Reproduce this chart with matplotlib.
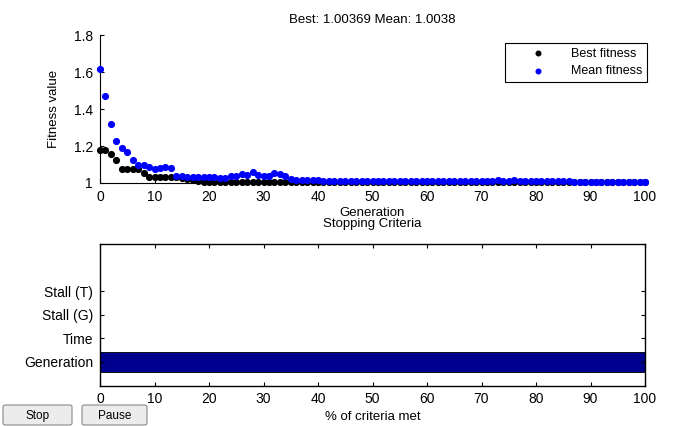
import matplotlib.pyplot as plt
from matplotlib.patches import FancyBboxPatch

plt.rcParams['font.family'] = ['Liberation Sans', 'DejaVu Sans']

generations = list(range(0, 101))

mean_fitness = [
    1.62, 1.47, 1.32, 1.23, 1.19, 1.167, 1.125, 1.096, 1.096, 1.087,
    1.075, 1.08, 1.087, 1.08, 1.04, 1.037, 1.035, 1.034, 1.034, 1.034,
    1.03, 1.03, 1.029, 1.029, 1.04, 1.038, 1.05, 1.044, 1.06, 1.044,
    1.04, 1.04, 1.056, 1.051, 1.04, 1.022, 1.018, 1.017, 1.016, 1.015,
    1.015, 1.013, 1.013, 1.012, 1.012, 1.012, 1.011, 1.011, 1.011, 1.010,
    1.010, 1.010, 1.010, 1.009, 1.010, 1.009, 1.009, 1.009, 1.010, 1.009,
    1.009, 1.009, 1.009, 1.009, 1.010, 1.009, 1.009, 1.011, 1.013, 1.013,
    1.012, 1.010, 1.011, 1.014, 1.013, 1.011, 1.014, 1.011, 1.010, 1.009,
    1.009, 1.009, 1.009, 1.009, 1.010, 1.009, 1.009, 1.008, 1.007, 1.006,
    1.006, 1.006, 1.005, 1.005, 1.005, 1.005, 1.004, 1.004, 1.004, 1.004,
    1.0038,
]

best_fitness = [
    1.18, 1.18, 1.156, 1.125, 1.075, 1.075, 1.075, 1.075, 1.054, 1.034,
    1.034, 1.034, 1.034, 1.034, 1.034, 1.028, 1.022, 1.016, 1.012, 1.008,
    1.006, 1.006, 1.006, 1.006, 1.006, 1.006, 1.007, 1.007, 1.007, 1.006,
    1.006, 1.006, 1.006, 1.006, 1.006, 1.005, 1.005, 1.005, 1.005, 1.005,
    1.005, 1.005, 1.005, 1.005, 1.005, 1.005, 1.005, 1.005, 1.005, 1.005,
    1.005, 1.005, 1.005, 1.005, 1.005, 1.005, 1.005, 1.005, 1.005, 1.005,
    1.004, 1.004, 1.004, 1.004, 1.004, 1.004, 1.004, 1.004, 1.004, 1.004,
    1.004, 1.004, 1.004, 1.004, 1.004, 1.004, 1.004, 1.004, 1.004, 1.004,
    1.004, 1.004, 1.004, 1.004, 1.004, 1.004, 1.004, 1.004, 1.004, 1.004,
    1.0037, 1.0037, 1.0037, 1.0037, 1.0037, 1.0037, 1.0037, 1.0037, 1.0037, 1.0037,
    1.00369,
]

criteria = ['Generation', 'Time', 'Stall (G)', 'Stall (T)']
criteria_met = [100, 0, 0, 0]

fig = plt.figure(figsize=(6.77, 4.26), dpi=100)

# top: fitness per generation
ax1 = fig.add_axes([100 / 677, 1 - 183 / 426, 545 / 677, 147.5 / 426])
ax1.scatter(generations, best_fitness, s=17, color='black', label='Best fitness',
            zorder=2, clip_on=False)
ax1.scatter(generations, mean_fitness, s=17, color='blue', label='Mean fitness',
            zorder=3, clip_on=False)
ax1.set_xlim(0, 100)
ax1.set_ylim(1, 1.8)
ax1.set_xticks(range(0, 101, 10))
ax1.set_yticks([1, 1.2, 1.4, 1.6, 1.8])
ax1.set_yticklabels(['1', '1.2', '1.4', '1.6', '1.8'])
ax1.spines['top'].set_visible(False)
ax1.spines['right'].set_visible(False)
ax1.tick_params(direction='in', length=3, labelsize=10, pad=5)
ax1.set_xlabel('Generation', fontsize=9.5, labelpad=2)
ax1.set_ylabel('Fitness value', fontsize=9.5, labelpad=10)
ax1.set_title('Best: 1.00369 Mean: 1.0038', fontsize=9.5, pad=9)
leg = ax1.legend(loc='upper right', bbox_to_anchor=(1.004, 0.952), borderaxespad=0,
                 fontsize=9, fancybox=False, edgecolor='black', framealpha=1,
                 handlelength=4.6, handletextpad=0.3, borderpad=0.4,
                 labelspacing=0.45, markerscale=0.8)
leg.get_frame().set_linewidth(0.8)

# bottom: stopping criteria
ax2 = fig.add_axes([100 / 677, 1 - 385.5 / 426, 545 / 677, 141.5 / 426])
ax2.barh(range(1, len(criteria) + 1), criteria_met, height=0.85,
         color='#00008F', edgecolor='black', linewidth=0.6)
ax2.set_xlim(0, 100)
ax2.set_ylim(0, 6)
ax2.set_xticks(range(0, 101, 10))
ax2.set_yticks(range(1, len(criteria) + 1))
ax2.set_yticklabels(criteria)
ax2.tick_params(direction='in', length=3, labelsize=10, top=True, right=True, pad=5)
for sp in ax2.spines.values():
    sp.set_linewidth(1.0)
ax2.set_xlabel('% of criteria met', fontsize=9.5, labelpad=3)
ax2.set_title('Stopping Criteria', fontsize=9.5, pad=12)

# buttons
for x0, w, label in [(3, 69, 'Stop'), (82, 65, 'Pause')]:
    btn = FancyBboxPatch((x0 / 677, 1 / 426), w / 677, 20 / 426,
                         boxstyle='round,pad=0,rounding_size=0.004',
                         transform=fig.transFigure, facecolor='#ECECEC',
                         edgecolor='#8A8A8A', linewidth=0.8)
    fig.patches.append(btn)
    fig.text((x0 + w / 2) / 677, 10 / 426, label, ha='center', va='center', fontsize=8.5)

fig.savefig('out.png', dpi=100)
